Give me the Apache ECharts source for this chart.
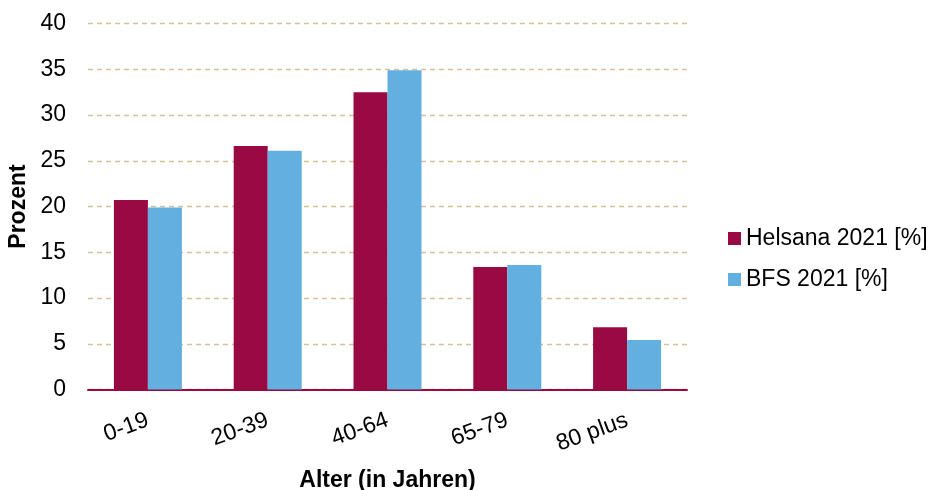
<!DOCTYPE html>
<html>
<head>
<meta charset="utf-8">
<script src="https://cdn.jsdelivr.net/npm/echarts@6/dist/echarts.min.js"></script>
<style>
  html, body { margin: 0; padding: 0; background: #fff; }
  #chart { width: 937px; height: 490px; }
</style>
</head>
<body>
<div id="chart"></div>
<script>
const categories = ['0-19', '20-39', '40-64', '65-79', '80 plus'];
const helsana = [20.7, 26.6, 32.5, 13.4, 6.8];
const bfs = [19.9, 26.1, 34.9, 13.6, 5.4];
const seriesNames = ['Helsana 2021 [%]', 'BFS 2021 [%]'];

const font = 'Liberation Sans, Arial, sans-serif';
const chart = echarts.init(document.getElementById('chart'));

const options = {
    animation: false,
    color: ['#990A43', '#63AFDF'],
    textStyle: { fontFamily: font },
    grid: {
        left: 88,
        right: 250,
        top: 23.5,
        bottom: 100.5,
        containLabel: false,
        outerBoundsMode: 'none'
    },
    legend: {
        orient: 'vertical',
        left: 723,
        top: 222,
        itemWidth: 13,
        itemHeight: 13,
        itemGap: 18,
        icon: 'rect',
        textStyle: { fontSize: 23, color: '#000', fontFamily: font },
        data: seriesNames
    },
    xAxis: {
        type: 'category',
        data: categories,
        name: 'Alter (in Jahren)',
        nameLocation: 'middle',
        nameGap: 80,
        nameMoveOverlap: false,
        nameTextStyle: { fontSize: 23, fontWeight: 'bold', color: '#000', fontFamily: font },
        axisLine: { lineStyle: { color: '#990A43', width: 2 } },
        axisTick: { show: false },
        axisLabel: {
            rotate: 20,
            margin: 30,
            fontSize: 23,
            color: '#000',
            fontFamily: font
        }
    },
    yAxis: {
        type: 'value',
        min: 0,
        max: 40,
        interval: 5,
        name: 'Prozent',
        nameLocation: 'middle',
        nameGap: 58,
        nameMoveOverlap: false,
        nameTextStyle: { fontSize: 23, fontWeight: 'bold', color: '#000', fontFamily: font },
        axisLine: { show: false },
        axisTick: { show: false },
        axisLabel: { fontSize: 23, color: '#000', margin: 22, fontFamily: font },
        splitLine: {
            lineStyle: { color: '#D3C29D', type: [5, 4], width: 1.3 }
        }
    },
    series: [
        {
            name: seriesNames[0],
            type: 'bar',
            data: helsana,
            barWidth: 34,
            barGap: '0%'
        },
        {
            name: seriesNames[1],
            type: 'bar',
            data: bfs,
            barWidth: 34,
            barGap: '0%'
        }
    ]
};
chart.setOption(options);
</script>
</body>
</html>
